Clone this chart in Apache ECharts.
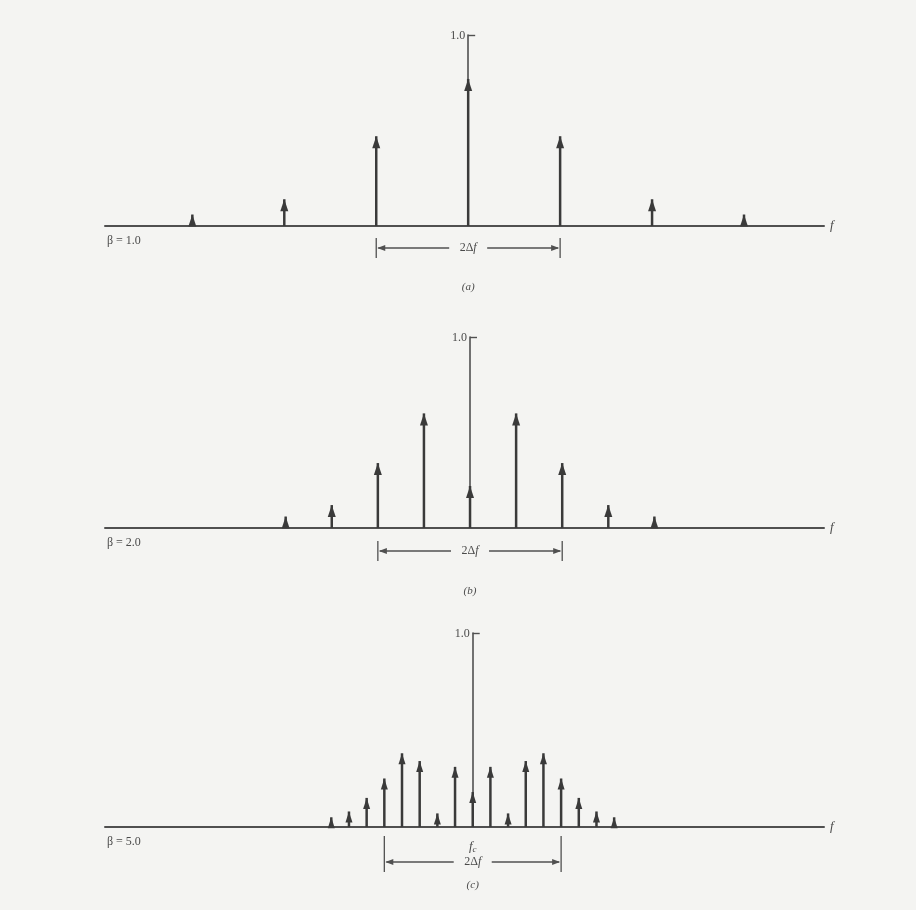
<!DOCTYPE html>
<html><head><meta charset="utf-8">
<script src="https://cdn.jsdelivr.net/npm/echarts@6/dist/echarts.min.js"></script>
<style>html,body{margin:0;padding:0;background:#f4f4f2}#c{width:916px;height:910px}</style>
</head><body><div id="c"></div>
<script>
// ---- data (sideband index n, relative amplitude |Jn(beta)|) ----
const harmonicsA = [-3, -2, -1, 0, 1, 2, 3];
const ampA = [0.06, 0.14, 0.47, 0.77, 0.47, 0.14, 0.06];
const harmonicsB = [-4, -3, -2, -1, 0, 1, 2, 3, 4];
const ampB = [0.06, 0.12, 0.34, 0.60, 0.22, 0.60, 0.34, 0.12, 0.06];
const harmonicsC = [-8, -7, -6, -5, -4, -3, -2, -1, 0, 1, 2, 3, 4, 5, 6, 7, 8];
const ampC = [0.05, 0.08, 0.15, 0.25, 0.38, 0.34, 0.07, 0.31, 0.18, 0.31, 0.07, 0.34, 0.38, 0.25, 0.15, 0.08, 0.05];
const betas = [1, 2, 5];
const betaLabels = ['β = 1.0', 'β = 2.0', 'β = 5.0'];
const captions = ['(a)', '(b)', '(c)'];
const yTickLabel = '1.0';

// ---- layout ----
const grids = [
  {left: 105, top: 35, width: 719, height: 191},
  {left: 105, top: 337, width: 719, height: 191},
  {left: 105, top: 633, width: 719, height: 194}
];
const xRanges = [[-3.95, 3.87], [-7.92, 7.68], [-20.8, 19.87]];
const dims = [ // offsets below baseline: line y, tick top, tick bottom
  {y: 22, t0: 12, t1: 32},
  {y: 23, t0: 13, t1: 33},
  {y: 35, t0: 9, t1: 45}
];
const INK = '#3a3a3a';
const TXT = '#4a4a4a';
const FONT = '"Liberation Serif", "DejaVu Serif", serif';

const sets = [[harmonicsA, ampA], [harmonicsB, ampB], [harmonicsC, ampC]];

const xAxes = [], yAxes = [], series = [];
sets.forEach(([h, a], i) => {
  xAxes.push({
    type: 'value', gridIndex: i, min: xRanges[i][0], max: xRanges[i][1],
    name: 'f', nameLocation: 'end', nameGap: 6,
    nameTextStyle: {fontFamily: FONT, fontStyle: 'italic', fontSize: 13, color: TXT, verticalAlign: 'middle'},
    axisLine: {show: true, onZero: false, lineStyle: {color: '#505050', width: 2}},
    axisTick: {show: false},
    splitLine: {show: false},
    axisLabel: i === 2 ? {
      show: true, customValues: [0], margin: 12,
      formatter: () => '{i|f}{s|c}',
      rich: {i: {fontFamily: FONT, fontStyle: 'italic', fontSize: 13, color: TXT},
             s: {fontFamily: FONT, fontStyle: 'italic', fontSize: 9, color: TXT, verticalAlign: 'bottom', padding: [6, 0, 0, 0]}}
    } : {show: false}
  });
  yAxes.push({
    type: 'value', gridIndex: i, min: 0, max: 1,
    axisLine: {show: true, onZero: true, lineStyle: {color: '#505050', width: 1.6}},
    axisTick: {show: true, inside: true, length: 7, customValues: [1], lineStyle: {color: '#505050', width: 1.4}},
    axisLabel: {show: false},
    splitLine: {show: false}
  });
  const data = h.map((n, k) => [n, a[k]]);
  series.push({
    type: 'bar', xAxisIndex: i, yAxisIndex: i, data, barWidth: 2.5,
    itemStyle: {color: INK}, silent: true
  });
  series.push({
    type: 'scatter', xAxisIndex: i, yAxisIndex: i, data,
    symbol: 'triangle', symbolSize: i === 2 ? [7, 11] : [8, 12], symbolOffset: [0, '50%'],
    itemStyle: {color: INK, opacity: 1}, silent: true, z: 5
  });
});

const chart = echarts.init(document.getElementById('c'), null, {renderer: 'canvas'});
chart.setOption({
  backgroundColor: '#f4f4f2',
  animation: false,
  grid: grids,
  xAxis: xAxes,
  yAxis: yAxes,
  series
});

// ---- annotations: 1.0 labels, beta labels, 2Δf dimensions, captions ----
const g = [];
grids.forEach((gr, i) => {
  const base = gr.top + gr.height;
  const top = chart.convertToPixel({gridIndex: i}, [0, 1]);
  g.push({type: 'text', x: top[0] - 3, y: top[1] + 1,
    style: {text: yTickLabel, align: 'right', verticalAlign: 'middle', font: '12px ' + FONT, fill: TXT}});
  g.push({type: 'text', left: gr.left + 2, top: base + 9,
    style: {text: betaLabels[i], font: '12px ' + FONT, fill: TXT}});
  const pL = chart.convertToPixel({gridIndex: i}, [-betas[i], 0]);
  const pR = chart.convertToPixel({gridIndex: i}, [betas[i], 0]);
  const x1 = pL[0], x2 = pR[0], mid = (x1 + x2) / 2;
  const d = dims[i], y = base + d.y;
  const ls = {stroke: '#505050', lineWidth: 1.3};
  g.push({type: 'line', shape: {x1: x1, y1: base + d.t0, x2: x1, y2: base + d.t1}, style: ls});
  g.push({type: 'line', shape: {x1: x2, y1: base + d.t0, x2: x2, y2: base + d.t1}, style: ls});
  g.push({type: 'line', shape: {x1: x1 + 2, y1: y, x2: mid - 19, y2: y}, style: ls});
  g.push({type: 'line', shape: {x1: mid + 19, y1: y, x2: x2 - 2, y2: y}, style: ls});
  g.push({type: 'polygon', shape: {points: [[x1 + 1, y], [x1 + 9, y - 3], [x1 + 9, y + 3]]}, style: {fill: '#505050'}});
  g.push({type: 'polygon', shape: {points: [[x2 - 1, y], [x2 - 9, y - 3], [x2 - 9, y + 3]]}, style: {fill: '#505050'}});
  g.push({type: 'text', x: mid, y: y,
    style: {text: '{n|2Δ}{i|f}', align: 'center', verticalAlign: 'middle',
      rich: {n: {fontFamily: FONT, fontSize: 12, fill: TXT}, i: {fontFamily: FONT, fontStyle: 'italic', fontSize: 12, fill: TXT}}}});
  const capY = [287, 591, 885][i];
  g.push({type: 'text', x: chart.convertToPixel({gridIndex: i}, [0, 0])[0], y: capY,
    style: {text: captions[i], align: 'center', verticalAlign: 'middle', font: 'italic 11px ' + FONT, fill: TXT}});
});
chart.setOption({graphic: g});
</script>
</body></html>
